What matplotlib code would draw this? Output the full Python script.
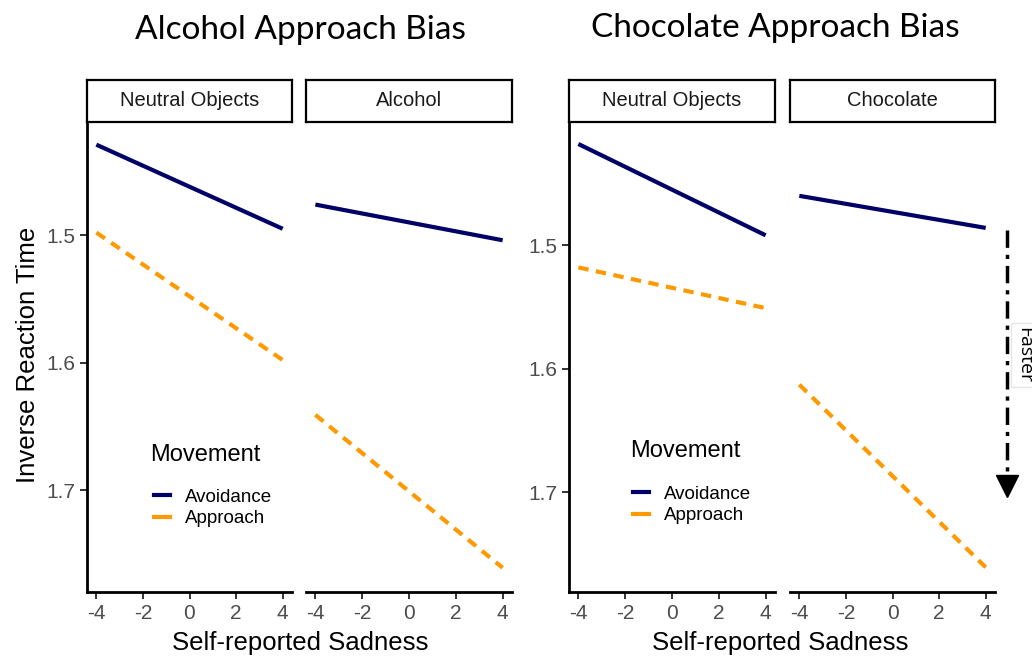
import matplotlib
matplotlib.use('Agg')
import matplotlib.pyplot as plt
from matplotlib.lines import Line2D

# Sadness range shown in every panel
sadness = [-4, 4]

# Predicted inverse RT at sadness -4 and +4, per panel
alc_neutral_avoid = [1.429, 1.495]
alc_neutral_approach = [1.498, 1.598]
alc_alcohol_avoid = [1.476, 1.504]
alc_alcohol_approach = [1.641, 1.761]

choc_neutral_avoid = [1.418, 1.492]
choc_neutral_approach = [1.518, 1.551]
choc_choc_avoid = [1.460, 1.486]
choc_choc_approach = [1.613, 1.761]

xticks = [-4, -2, 0, 2, 4]
yticks = [1.5, 1.6, 1.7]
legend_labels = ['Avoidance', 'Approach']

NAVY = '#000066'
ORANGE = '#FF9900'
TICK_GREY = '#4d4d4d'

W, H = 1032, 663
plt.rcParams['font.family'] = ['Liberation Sans', 'DejaVu Sans']

fig = plt.figure(figsize=(W / 100, H / 100), dpi=100)


def px_axes(x0, y0, x1, y1):
    return fig.add_axes([x0 / W, 1 - y1 / H, (x1 - x0) / W, (y1 - y0) / H])


def strip(x0, x1, label):
    ax = px_axes(x0, 80, x1, 122)
    ax.set_xticks([])
    ax.set_yticks([])
    for s in ax.spines.values():
        s.set_linewidth(1.6)
        s.set_color('black')
    ax.text(0.5, 0.5, label, ha='center', va='center', fontsize=14.5,
            color='#1a1a1a', transform=ax.transAxes)


def panel(x0, x1, ylim, avoid, approach, first):
    ax = px_axes(x0, 123, x1, 592)
    ax.plot(sadness, avoid, color=NAVY, lw=3, solid_capstyle='butt')
    ax.plot(sadness, approach, color=ORANGE, lw=3, dashes=(2.5, 1.8))
    ax.set_xlim(-4.4, 4.4)
    ax.set_ylim(ylim[1], ylim[0])
    ax.set_xticks(xticks)
    ax.set_xticklabels([str(t) for t in xticks])
    ax.spines['top'].set_visible(False)
    ax.spines['right'].set_visible(False)
    ax.spines['bottom'].set_linewidth(2)
    ax.spines['left'].set_linewidth(2)
    ax.tick_params(axis='both', labelsize=15, labelcolor=TICK_GREY,
                   color='#333333', width=1.4, length=5)
    if first:
        ax.set_yticks(yticks)
        ax.set_yticklabels([str(t) for t in yticks])
    else:
        ax.spines['left'].set_visible(False)
        ax.set_yticks([])
    return ax


# Alcohol group
ax1 = panel(87, 292, (1.412, 1.780), alc_neutral_avoid, alc_neutral_approach, True)
ax2 = panel(306, 512, (1.412, 1.780), alc_alcohol_avoid, alc_alcohol_approach, False)
strip(87, 292, 'Neutral Objects')
strip(306, 512, 'Alcohol')

# Chocolate group
ax3 = panel(569, 775, (1.401, 1.781), choc_neutral_avoid, choc_neutral_approach, True)
ax4 = panel(790, 995, (1.401, 1.781), choc_choc_avoid, choc_choc_approach, False)
strip(569, 775, 'Neutral Objects')
strip(790, 995, 'Chocolate')

fig.text(300 / W, 1 - 30 / H, 'Alcohol Approach Bias', ha='center', va='center',
         fontsize=24, family=['Lato', 'DejaVu Sans'])
fig.text(775 / W, 1 - 28 / H, 'Chocolate Approach Bias', ha='center', va='center',
         fontsize=24, family=['Lato', 'DejaVu Sans'])

fig.text(28 / W, 1 - 355 / H, 'Inverse Reaction Time', rotation=90,
         ha='center', va='center', fontsize=18.5)
fig.text(300 / W, 1 - 643 / H, 'Self-reported Sadness', ha='center',
         va='center', fontsize=18.5)
fig.text(780 / W, 1 - 643 / H, 'Self-reported Sadness', ha='center',
         va='center', fontsize=18.5)

# Movement legends (title placed separately for ggplot-like spacing)
handles = [Line2D([], [], color=NAVY, lw=3),
           Line2D([], [], color=ORANGE, lw=3)]
for tx, ty, lx, ly in [(150, 455, 146, 481), (630, 451, 625, 478)]:
    fig.text(tx / W, 1 - ty / H, 'Movement', ha='left', va='center', fontsize=17)
    fig.legend(handles, legend_labels, loc='upper left',
               bbox_to_anchor=(lx / W, 1 - ly / H), frameon=False,
               fontsize=13.5, handlelength=0.9, handletextpad=0.8,
               labelspacing=0.25, borderaxespad=0)

# "Faster" arrow on the right edge
fig.add_artist(Line2D([1007 / W, 1007 / W], [1 - 230 / H, 1 - 478 / H],
                      transform=fig.transFigure, color='black', lw=2.5,
                      linestyle=(0, (5, 2, 1.2, 2))))
fig.add_artist(Line2D([1007 / W], [1 - 486 / H], transform=fig.transFigure,
                      marker='v', markersize=16, color='black', lw=0))
fig.text(1024 / W, 1 - 355 / H, 'Faster', rotation=-90, ha='center',
         va='center', fontsize=14, family=['Open Sans', 'DejaVu Sans'],
         bbox=dict(facecolor='white', edgecolor='#e6e6e6', pad=3))

fig.savefig('out.png', dpi=100)
